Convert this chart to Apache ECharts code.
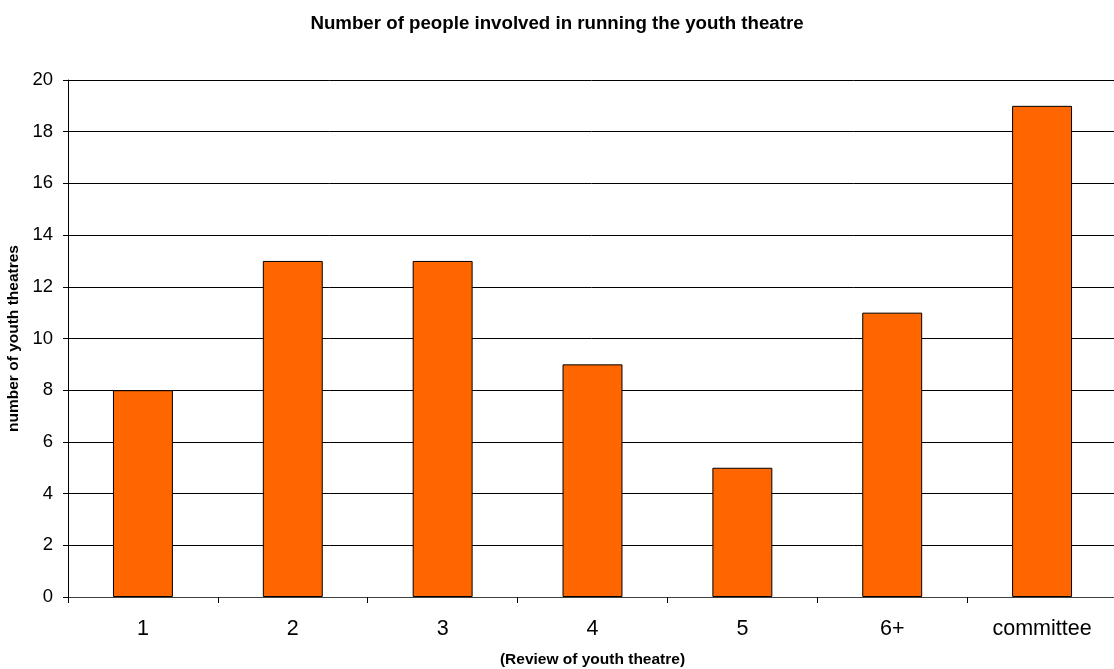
<!DOCTYPE html>
<html>
<head>
<meta charset="utf-8">
<script src="https://cdn.jsdelivr.net/npm/echarts@6/dist/echarts.min.js"></script>
<style>
  html, body { margin: 0; padding: 0; background: #fff; }
  #chart { width: 1114px; height: 669px; }
</style>
</head>
<body>
<div id="chart"></div>
<script>
// Count of youth theatres by number of people running them
const categories = ['1', '2', '3', '4', '5', '6+', 'committee'];
const theatreCounts = [8, 13, 13, 9, 5, 11, 19];
const yTicks = { min: 0, max: 20, interval: 2 };

const FONT = '"Liberation Sans", Arial, sans-serif';
const chart = echarts.init(document.getElementById('chart'), null, { renderer: 'canvas' });

chart.setOption({
  animation: false,
  backgroundColor: '#ffffff',
  title: {
    text: 'Number of people involved in running the youth theatre',
    left: 'center',
    top: 9,
    textStyle: { fontFamily: FONT, fontSize: 18.7, fontWeight: 'bold', color: '#000' }
  },
  grid: {
    left: 68, top: 80, width: 1049, bottom: 72,
    containLabel: false,
    outerBoundsMode: 'none'
  },
  xAxis: {
    type: 'category',
    data: categories,
    name: '(Review of youth theatre)',
    nameLocation: 'middle',
    nameGap: 55,
    nameTextStyle: { fontFamily: FONT, fontSize: 15.5, fontWeight: 'bold', color: '#000' },
    axisLine: { lineStyle: { color: '#404040', width: 1 } },
    axisTick: { show: true, length: 6, alignWithLabel: false, lineStyle: { color: '#000' } },
    axisLabel: { fontFamily: FONT, fontSize: 21.5, color: '#000', margin: 21 }
  },
  yAxis: {
    type: 'value',
    min: yTicks.min,
    max: yTicks.max,
    interval: yTicks.interval,
    name: 'number of youth theatres',
    nameLocation: 'middle',
    nameGap: 41,
    nameRotate: 90,
    nameTextStyle: { fontFamily: FONT, fontSize: 15.5, fontWeight: 'bold', color: '#000' },
    axisLine: { show: true, lineStyle: { color: '#000', width: 1 } },
    axisTick: { show: true, length: 5, lineStyle: { color: '#000' } },
    axisLabel: { fontFamily: FONT, fontSize: 18.5, color: '#000', margin: 15 },
    splitLine: { show: true, lineStyle: { color: '#000', width: 1 } }
  },
  series: [{
    type: 'bar',
    data: theatreCounts,
    barWidth: '40%',
    itemStyle: { color: '#FF6600', borderColor: '#000', borderWidth: 1 }
  }]
});
</script>
</body>
</html>
